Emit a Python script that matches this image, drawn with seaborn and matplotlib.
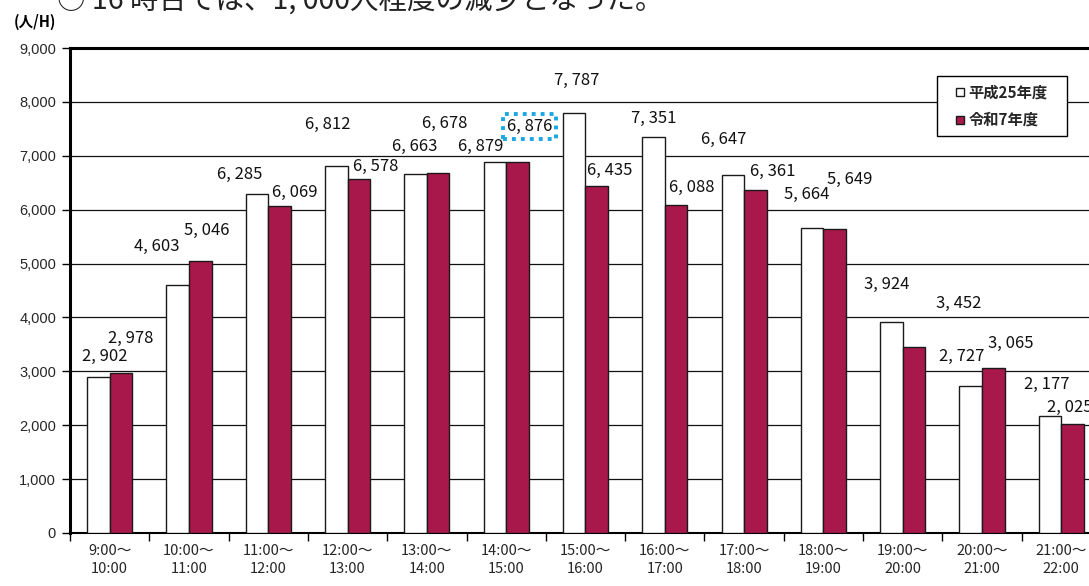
import matplotlib
matplotlib.use("Agg")
import matplotlib.pyplot as plt
from matplotlib.lines import Line2D
import seaborn as sns
import pandas as pd

# ---------------- data ----------------
categories = ["9:00～\n10:00", "10:00～\n11:00", "11:00～\n12:00", "12:00～\n13:00",
              "13:00～\n14:00", "14:00～\n15:00", "15:00～\n16:00", "16:00～\n17:00",
              "17:00～\n18:00", "18:00～\n19:00", "19:00～\n20:00", "20:00～\n21:00",
              "21:00～\n22:00"]
series_names = ["平成25年度", "令和7年度"]
h25_values = [2902, 4603, 6285, 6812, 6663, 6879, 7787, 7351, 6647, 5664, 3924, 2727, 2177]
r7_values = [2978, 5046, 6069, 6578, 6678, 6876, 6435, 6088, 6361, 5649, 3452, 3065, 2025]
y_ticks = [0, 1000, 2000, 3000, 4000, 5000, 6000, 7000, 8000, 9000]
unit_label = "(人/H)"
header_text = "○ 16 時台では、1, 000人程度の減少となった。"
highlight = ("令和7年度", 5)

# ---------------- layout (label offsets in pixels: dx, dy above bar top) ----------------
h25_label_offsets = [(6, 20), (-21, 38), (-17, 20), (-9, 41), (-1, 27), (-14, 16), (2, 33),
                     (0, 18), (-9, 35), (-5, 33), (-5, 37), (-9, 30), (-3, 31)]
r7_label_offsets = [(10, 34), (6, 31), (15, 13), (17, 12), (7, 50), (12, 36), (13, 16),
                    (16, 17), (17, 19), (15, 49), (45, 44), (17, 24), (-3, 16)]

WHITE = "#FFFFFF"
CRIMSON = "#A8184B"
EDGE = "#1a1a1a"

df = pd.DataFrame({
    "cat": categories * 2,
    "year": [series_names[0]] * len(categories) + [series_names[1]] * len(categories),
    "value": h25_values + r7_values,
})

sns.set_theme(style="white")
plt.rcParams["font.family"] = ["Noto Sans CJK JP", "DejaVu Sans"]

W, H = 1089, 586
fig = plt.figure(figsize=(W / 100, H / 100), dpi=100)
ax = fig.add_axes([70 / W, (H - 533) / H, (1101 - 70) / W, (533 - 48) / H])

sns.barplot(data=df, x="cat", y="value", hue="year", order=categories,
            hue_order=series_names, palette=[WHITE, CRIMSON], width=0.57,
            edgecolor=EDGE, linewidth=1.0, saturation=1, ax=ax, legend=False,
            zorder=3)

ax.set_xlim(-0.5, len(categories) - 0.5)
ax.set_ylim(0, 9000)
ax.set_yticks(y_ticks)
ax.set_yticklabels([f"{v:,}" for v in y_ticks], family=["Liberation Sans"], fontsize=10.5)
ax.set_xlabel("")
ax.set_ylabel("")

# grid
ax.set_axisbelow(True)
ax.yaxis.grid(True, color="#111111", linewidth=0.9)
ax.xaxis.grid(False)

# spines
for side in ["left", "top"]:
    ax.spines[side].set_linewidth(2.2)
    ax.spines[side].set_color("black")
ax.spines["bottom"].set_linewidth(1.5)
ax.spines["bottom"].set_color("black")
ax.spines["right"].set_visible(False)

# ticks
ax.tick_params(axis="y", which="major", left=True, length=6, width=1, color="black", pad=4)
ax.tick_params(axis="x", which="major", bottom=False, length=0, pad=8)
ax.set_xticks([i for i in range(len(categories))])
ax.set_xticklabels(categories, fontsize=10.5, linespacing=1.35)
ax.set_xticks([i - 0.5 for i in range(len(categories) + 1)], minor=True)
ax.tick_params(axis="x", which="minor", bottom=True, length=6, width=1, color="black")

# data labels
px2pt = 0.72
containers = ax.containers
for s_idx, (cont, vals, offs) in enumerate(zip(containers, [h25_values, r7_values],
                                                 [h25_label_offsets, r7_label_offsets])):
    for i, (bar, v, (dx, dy)) in enumerate(zip(cont.patches, vals, offs)):
        xc = bar.get_x() + bar.get_width() / 2
        top = bar.get_height()
        kw = {}
        if (series_names[s_idx], i) == highlight:
            kw["bbox"] = dict(boxstyle="square,pad=0.22", fc="none", ec="#1AA7E4",
                              ls=(0, (1, 1.3)), lw=2.8)
        ax.annotate(f"{v:,}".replace(",", ", "), xy=(xc, top),
                    xytext=(dx * px2pt, dy * px2pt), textcoords="offset points",
                    ha="center", va="center", fontsize=12, color="#111111",
                    annotation_clip=False, zorder=5, **kw)

# legend
handles = [Line2D([], [], marker="s", linestyle="none", markersize=6,
                  markerfacecolor=WHITE, markeredgecolor=EDGE, markeredgewidth=1),
           Line2D([], [], marker="s", linestyle="none", markersize=6,
                  markerfacecolor=CRIMSON, markeredgecolor=EDGE, markeredgewidth=1)]
leg = fig.legend(handles, series_names, loc="upper left",
                 bbox_to_anchor=(937 / W, (H - 135) / H, 130 / W, 59 / H), mode="expand",
                 borderaxespad=0, frameon=True, fancybox=False,
                 edgecolor="black", framealpha=1, handlelength=1.9,
                 handletextpad=-0.4, borderpad=0.55, labelspacing=0.75,
                 prop={"weight": "bold", "size": 11})
leg.get_frame().set_linewidth(1.0)

# unit label and clipped header text
fig.text(14 / W, 1 - 22 / H, unit_label, ha="left", va="center", fontsize=10.5,
         fontweight="bold", color="black")
fig.text(57 / W, 1 - 9 / H, header_text, ha="left", va="baseline", fontsize=20.5,
         color="#222222")

fig.savefig("out.png", dpi=100)
